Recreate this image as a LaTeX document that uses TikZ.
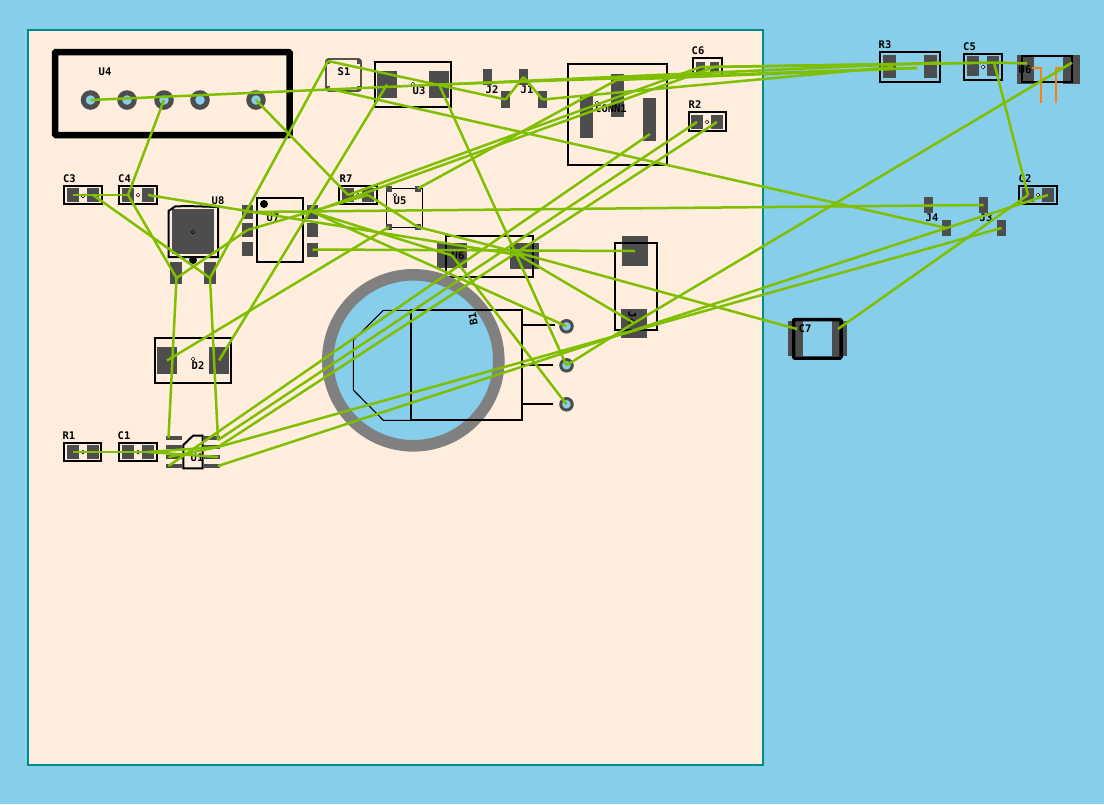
\documentclass[tikz,border=0pt]{standalone}
\usepackage{fontspec}
\newfontfamily\lblfont{DejaVu Sans Mono}
\usepackage{tikz}
\usetikzlibrary{shapes.geometric}
\definecolor{skyback}{RGB}{135,206,235}
\definecolor{boardfill}{RGB}{255,238,222}
\definecolor{boardedge}{RGB}{0,139,139}
\definecolor{padgray}{RGB}{77,77,77}
\definecolor{ringgray}{RGB}{128,128,128}
\definecolor{ratgreen}{RGB}{127,191,0}
\definecolor{wireorange}{RGB}{255,127,14}
\tikzstyle{pad} = [rectangle, fill=padgray, inner sep=0pt, outer sep=0pt]
\tikzstyle{chip} = [pad, minimum width=12pt, minimum height=14pt]
\tikzstyle{lead} = [pad, minimum width=16pt, minimum height=4pt]
\tikzstyle{sop} = [pad, minimum width=11pt, minimum height=14pt]
\tikzstyle{pin} = [pad, minimum width=9pt, minimum height=16pt]
\tikzstyle{tiny} = [pad, minimum width=6pt, minimum height=6pt]
\tikzstyle{hole} = [circle, draw=padgray, fill=skyback, inner sep=0pt, outer sep=0pt]
\tikzstyle{part} = [draw=black, line width=2pt]
\tikzstyle{thin} = [draw=black, line width=1.1pt]
\tikzstyle{mid} = [diamond, draw=black, fill=boardfill, line width=.5pt, minimum size=4pt, inner sep=0pt]
\tikzstyle{lbl} = [inner sep=0pt, font=\fontsize{10.5}{12}\lblfont\bfseries]
\tikzstyle{rat} = [draw=ratgreen, line width=2.5pt]
\begin{document}
\begin{tikzpicture}[x=1pt,y=-1pt]
\fill[skyback] (0,0) rectangle (1104,804);
\useasboundingbox (0,0) rectangle (1104,804);
\draw[boardedge, fill=boardfill, line width=1.5pt] (28,30) rectangle (763,765);
% connector outline and holes
\draw[line width=6.5pt, rounded corners=1pt] (55,52) rectangle (289.5,135);
\node[lbl] (u4t) at (105,71.5) {U4};
\foreach \n/\x in {a/90.5,b/127,c/164,d/200,e/256}
  \node[hole, minimum size=14.5pt, line width=5pt] (u4\n) at (\x,100) {};
% chip parts
\draw[part] (63.5,186) rectangle (101.5,204);
\node[chip] (c3a) at (73,195) {};
\node[chip] (c3b) at (93,195) {};
\node[mid] (c3m) at (83,196) {};
\node[lbl] (c3t) at (69.5,178.5) {C3};
\draw[part] (118.7,186) rectangle (157.3,204);
\node[chip] (c4a) at (128,195) {};
\node[chip] (c4b) at (148,195) {};
\node[mid] (c4m) at (138,195) {};
\node[lbl] (c4t) at (124.5,178.5) {C4};
\draw[part] (339.3,186) rectangle (377.3,204);
\node[chip] (r7a) at (348,195) {};
\node[chip] (r7b) at (368,195) {};
\node[mid] (r7m) at (358,195) {};
\node[lbl] (r7t) at (346,179) {R7};
\draw[part] (688.7,112) rectangle (726.3,131);
\node[chip] (r2a) at (697,122) {};
\node[chip] (r2b) at (717,122) {};
\node[mid] (r2m) at (707,122) {};
\node[lbl] (r2t) at (695,104.5) {R2};
\draw[part] (693,58) rectangle (722,75);
\node[pad, minimum width=9pt, minimum height=10pt] (c6a) at (700.5,67) {};
\node[pad, minimum width=9pt, minimum height=10pt] (c6b) at (714.5,67) {};
\node[lbl] (c6t) at (698,51) {C6};
\draw[part] (63.7,443) rectangle (101.3,461);
\node[chip] (r1a) at (73,452) {};
\node[chip] (r1b) at (93,452) {};
\node[mid] (r1m) at (83,452) {};
\node[lbl] (r1t) at (69,436) {R1};
\draw[part] (118.7,443) rectangle (157.3,461);
\node[chip] (c1a) at (128,452) {};
\node[chip] (c1b) at (148,452) {};
\node[mid] (c1m) at (138,452) {};
\node[lbl] (c1t) at (124,436) {C1};
\draw[part] (1019,186) rectangle (1057.3,204);
\node[chip] (c2a) at (1028,195) {};
\node[chip] (c2b) at (1048,195) {};
\node[mid] (c2m) at (1038,195) {};
\node[lbl] (c2t) at (1025,179) {C2};
\draw[part] (963.7,53.7) rectangle (1002.3,79.7);
\node[pad, minimum width=12pt, minimum height=20pt] (c5a) at (973,66) {};
\node[pad, minimum width=12pt, minimum height=20pt] (c5b) at (993,66) {};
\node[mid] (c5m) at (983,67) {};
\node[lbl] (c5t) at (969.5,47) {C5};
\coordinate (c5x) at (973,63);
\coordinate (c5y) at (994,62.5);
\draw[part] (879.7,51.7) rectangle (939.7,81.7);
\node[pad, minimum width=13pt, minimum height=23pt] (r3a) at (889.5,66.5) {};
\node[pad, minimum width=13pt, minimum height=23pt] (r3b) at (930.5,66.5) {};
\node[lbl] (r3t) at (885,45) {R3};
\coordinate (r3x) at (893,67);
\coordinate (r3y) at (917,68);
\coordinate (r3z) at (940,62.5);
% transistor U8
\node[pad, minimum width=42pt, minimum height=45pt] (u8p) at (193,231.5) {};
\draw[part] (168.5,257) -- (168.5,211) -- (175,206.5) -- (186,206) -- (218,207) -- (218,257) -- cycle;
\node[pad, minimum width=12pt, minimum height=22pt] (u8a) at (176,272.5) {};
\node[pad, minimum width=12pt, minimum height=22pt] (u8b) at (210,272.5) {};
\node[circle, fill=black, minimum size=8pt, inner sep=0pt] (u8d) at (193,260) {};
\node[mid, fill=padgray] (u8m) at (193,232) {};
\node[lbl] (u8t) at (218,201) {U8};
\coordinate (u8x) at (176.5,278);
\coordinate (u8y) at (210,278);
% ic with six pads
\draw[part] (256.7,197.7) rectangle (302.7,262.3);
\node[circle, fill=black, minimum size=8pt, inner sep=0pt] (u7d) at (264,204) {};
\node[lbl] (u7t) at (273,218) {U7};
\node[sop] (u7a) at (247.5,212) {};
\node[sop] (u7b) at (247.5,230) {};
\node[sop] (u7c) at (247.5,248.5) {};
\node[sop] (u7d2) at (312.5,212) {};
\node[sop] (u7e) at (312.5,230) {};
\node[sop] (u7f) at (312.5,249.5) {};
% switch
\draw[thin, rounded corners=2pt] (326,59) rectangle (361,91);
\node[pad, minimum width=4pt, minimum height=5pt] (s1a) at (328,61) {};
\node[pad, minimum width=4pt, minimum height=5pt] (s1b) at (359,61) {};
\node[pad, minimum width=4pt, minimum height=5pt] (s1c) at (328,88.5) {};
\node[pad, minimum width=4pt, minimum height=5pt] (s1d) at (359,88.5) {};
\node[lbl] (s1t) at (344,71.5) {S1};
% regulator
\draw[part] (374.7,62) rectangle (451,107);
\node[pad, minimum width=20pt, minimum height=27pt] (u3a) at (387,84.5) {};
\node[pad, minimum width=20pt, minimum height=27pt] (u3b) at (439,84.5) {};
\node[mid] (u3m) at (413,84) {};
\node[lbl] (u3t) at (419,91) {U3};
% jumpers
\node[pin] (j2a) at (487.5,77) {};
\node[pin, minimum height=17pt] (j2b) at (505.5,99.5) {};
\node[lbl] (j2t) at (492,90) {J2};
\node[pin] (j1a) at (523.5,77) {};
\node[pin, minimum height=17pt] (j1b) at (542.5,99.5) {};
\node[lbl] (j1t) at (527,90) {J1};
\node[pin] (j4a) at (928.5,205) {};
\node[pin] (j4b) at (946.5,228) {};
\node[lbl] (j4t) at (932,218) {J4};
\node[pin] (j3a) at (983.5,205) {};
\node[pin] (j3b) at (1001.5,228) {};
\node[lbl] (j3t) at (986,218) {J3};
% conn1
\draw[part] (567.7,63.7) rectangle (667.3,165);
\node[pad, minimum width=13pt, minimum height=43pt] (cn1a) at (586.5,116.5) {};
\node[pad, minimum width=13pt, minimum height=43pt] (cn1b) at (617.5,95.5) {};
\node[pad, minimum width=13pt, minimum height=43pt] (cn1c) at (649.5,119.5) {};
\node[mid] (cn1m) at (597,103) {};
\node[lbl] (cn1t) at (611,108.5) {CONN1};
\coordinate (cn1x) at (616.7,80);
\coordinate (cn1y) at (650,134);
% u5
\draw[thin] (386.3,188.3) rectangle (422.3,227.3);
\node[tiny] (u5a) at (389,188.5) {};
\node[tiny] (u5b) at (418,188.5) {};
\node[tiny] (u5c) at (389,227) {};
\node[tiny] (u5d) at (418,227) {};
\node[mid] (u5m) at (395,195) {};
\node[lbl] (u5t) at (400,200.5) {U5};
% u6
\node[pad, minimum width=30pt, minimum height=25pt] (u6a) at (452,255.5) {};
\node[pad, minimum width=29pt, minimum height=25.5pt] (u6b) at (524.5,256) {};
\draw[part] (446,236) rectangle (533.3,277);
\node[lbl] (u6t) at (458,256) {U6};
\coordinate (u6x) at (512,251);
% fuse like part
\node[pad, minimum width=26pt, minimum height=30pt] (d4a) at (635,251) {};
\node[pad, minimum width=26pt, minimum height=29pt] (d4b) at (634,323) {};
\draw[part] (615,242.7) rectangle (656.7,330);
\node[lbl, rotate=-90] (d4t) at (632,318) {J4};
% battery ring
\node[circle, draw=ringgray, fill=skyback, line width=11.6pt, minimum size=171pt, inner sep=0pt, outer sep=0pt] (ring) at (413.3,360.3) {};
\draw[thin] (410.7,310.3) -- (383.3,310.3) -- (353.3,340.3) -- (353.3,390) -- (383.3,420.3) -- (410.7,420.3);
\draw[part] (410.7,310) rectangle (521.7,420.3);
\draw[part] (521.7,325) -- (555,325);
\draw[part] (521.7,365) -- (553,365);
\draw[part] (521.7,404) -- (553,404);
\node[lbl, rotate=100] (ringt) at (473,319) {B1};
\foreach \n/\y in {a/326.3,b/365.3,c/404.3}
  \node[hole, minimum size=11.5pt, line width=3pt] (h\n) at (566.5,\y) {};
% diode
\draw[part] (155,338.3) rectangle (231.3,383);
\node[pad, minimum width=20pt, minimum height=27pt] (d2a) at (167,360.5) {};
\node[pad, minimum width=20pt, minimum height=27pt] (d2b) at (219,360.5) {};
\node[mid] (d2m) at (193,359) {};
\node[lbl] (d2t) at (198,365.5) {D2};
% u1
\draw[part] (183.3,445) -- (193,435.7) -- (202.7,435.7) -- (202.7,468.3) -- (183.3,468.3) -- cycle;
\foreach \n/\y in {a/438,b/447,c/457,d/466} {
  \node[lead] (u1\n l) at (174,\y) {};
  \node[lead] (u1\n r) at (212,\y) {};
}
\node[lbl] (u1t) at (197,458) {U1};
\coordinate (u1x) at (218,440);
\coordinate (u1y) at (218,447);
\coordinate (u1z) at (218,457);
\coordinate (u1w) at (218,466);
\coordinate (u1p) at (168.5,438);
\coordinate (u1q) at (168.5,457);
\coordinate (u1s) at (168.5,466);
% u9 top right
\node[pad, minimum width=17pt, minimum height=29pt] (u9a) at (1025.5,69.5) {};
\node[pad, minimum width=17pt, minimum height=29pt] (u9b) at (1071.5,69.5) {};
\draw[part] (1022.3,55.7) rectangle (1072.3,82.3);
\node[lbl] (u9t) at (1025,70) {U6};
\draw[wireorange, line width=1.3pt] (1032,68) -- (1041,68) -- (1041,103);
\draw[wireorange, line width=1.3pt] (1061,68) -- (1056,68) -- (1056,103);
\coordinate (u9x) at (1027,63.5);
\coordinate (u9y) at (1072,62.7);
% c7
\node[pad, minimum width=15pt, minimum height=35pt] (c7a) at (795.5,338.5) {};
\node[pad, minimum width=15pt, minimum height=35pt] (c7b) at (839.5,338.5) {};
\draw[line width=3.5pt, rounded corners=1pt] (793.5,319.5) rectangle (841,358);
\node[lbl] (c7t) at (805,329) {C7};
\coordinate (c7x) at (797,329);
\coordinate (c7y) at (838,329);
% ratlines
\draw[rat] (u4a.center) -- (r3z);
\draw[rat] (u4e.center) -- (r7a.center);
\draw[rat] (u4c.center) -- (c4a.center);
\draw[rat] (c3a.center) -- (c4a.center);
\draw[rat] (c3b.center) -- (u8y);
\draw[rat] (c4a.center) -- (u8x);
\draw[rat] (c4b.center) -- (u6b.center);
\draw[rat] (s1a.center) -- (u8y);
\draw[rat] (s1a.center) -- (j2b.center);
\draw[rat] (j2b.center) -- (j1a.center);
\draw[rat] (j1a.center) -- (j1b.center);
\draw[rat] (j1b.center) -- (r3x);
\draw[rat] (s1c.center) -- (j4b.center);
\draw[rat] (u3a.center) -- (d2b.center);
\draw[rat] (d2a.center) -- (u5c.center);
\draw[rat] (u3b.center) -- (hb.center);
\draw[rat] (u3b.center) -- (r3y);
\draw[rat] (u8x) -- (u7b.center);
\draw[rat] (u7b.center) -- (r7b.center);
\draw[rat] (r7b.center) -- (u5d.center);
\draw[rat] (u5d.center) -- (u6x);
\draw[rat] (u5b.center) -- (cn1x);
\draw[rat] (cn1x) -- (r3y);
\draw[rat] (u7a.center) -- (j3a.center);
\draw[rat] (u7d2.center) -- (ha.center);
\draw[rat] (u7d2.center) -- (u6a.center);
\draw[rat] (u7d2.center) -- (c6b.center);
\draw[rat] (r7a.center) -- (c6a.center);
\draw[rat] (u7f.center) -- (d4a.center);
\draw[rat] (u6a.center) -- (hc.center);
\draw[rat] (u6x) -- (d4b.center);
\draw[rat] (u6x) -- (c7x);
\draw[rat] (d4b.center) -- (hb.center);
\draw[rat] (d4b.center) -- (u9y);
\draw[rat] (c6b.center) -- (c5y);
\draw[rat] (c6a.center) -- (c5x);
\draw[rat] (c5y) -- (u9x);
\draw[rat] (c5y) -- (c2a.center);
\draw[rat] (c2a.center) -- (c7y);
\draw[rat] (c2b.center) -- (j4b.center);
\draw[rat] (j4b.center) -- (u1w);
\draw[rat] (j3b.center) -- (u1y);
\draw[rat] (cn1y) -- (u1s);
\draw[rat] (r2a.center) -- (u1x);
\draw[rat] (r2b.center) -- (u1y);
\draw[rat] (u8x) -- (u1p);
\draw[rat] (u8y) -- (u1x);
\draw[rat] (r1a.center) -- (c1b.center);
\draw[rat] (c1b.center) -- (u1y);
\draw[rat] (c1b.center) -- (u1z);
\draw[rat] (u1q) -- (u1y);
\end{tikzpicture}
\end{document}
